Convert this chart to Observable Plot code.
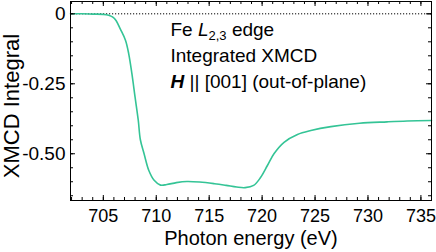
<!DOCTYPE html>
<html>
<head>
<meta charset="utf-8">
<script src="https://cdn.jsdelivr.net/npm/d3@7"></script>
<script src="https://cdn.jsdelivr.net/npm/@observablehq/plot@0.6"></script>
<style>
  html, body { margin: 0; padding: 0; background: white; }
</style>
</head>
<body>
<div id="chart"></div>
<script>
// Photon energy (eV) and integrated XMCD values
const energy = [701.9, 703, 704, 705, 705.5, 705.9, 706.2, 706.6, 707.1, 707.4, 707.7, 708.0, 708.3, 708.5, 708.85, 709.3, 709.8, 710.4, 711.0, 711.9, 712.9, 714.1, 715.5, 716.6, 717.6, 718.4, 719.2, 719.85, 720.5, 721.12, 722.07, 723.34, 724.6, 726.5, 729.2, 731.8, 733.7, 736.0];
const integral = [0, 0, -0.001, -0.002, -0.005, -0.012, -0.024, -0.054, -0.095, -0.143, -0.214, -0.298, -0.38, -0.45, -0.5, -0.56, -0.595, -0.612, -0.61, -0.603, -0.599, -0.601, -0.607, -0.613, -0.619, -0.621, -0.613, -0.585, -0.542, -0.5, -0.459, -0.431, -0.417, -0.403, -0.391, -0.386, -0.383, -0.381];

const xMajor = [705, 710, 715, 720, 725, 730, 735];
const xMinor = d3.range(702, 737, 1);
const yMajor = [0, -0.25, -0.5];
const yMinor = d3.range(0, -14, -1).map(i => i * 0.05);

const xDomain = [701.9, 736.0];
const yDomain = [-0.667, 0.044];

const xLabel = "Photon energy (eV)";
const yLabel = "XMCD Integral";
const annotations = ["Fe L2,3 edge", "Integrated XMCD", "H || [001] (out-of-plane)"];

const data = energy.map((e, i) => ({e, v: integral[i]}));

const W = 436, H = 252, mL = 70, mR = 5, mT = 1, mB = 52;
const fH = H - mT - mB, fW = W - mL - mR;
const major = 5, minor = 3;

const fmt = d => d === 0 ? "0" : d.toFixed(2);

const plot = Plot.plot({
  width: W, height: H,
  marginLeft: mL, marginRight: mR, marginTop: mT, marginBottom: mB,
  style: {fontSize: "19px", fontFamily: "'Liberation Sans', Arial, Helvetica, sans-serif", color: "black", background: "white"},
  x: {domain: xDomain},
  y: {domain: yDomain},
  marks: [
    Plot.ruleY([0], {stroke: "black", strokeWidth: 1, strokeDasharray: "1.2,1.8"}),
    Plot.line(data, {x: "e", y: "v", stroke: "#34c496", strokeWidth: 1.6, curve: "catmull-rom"}),
    // inward ticks: bottom
    Plot.tickX(xMajor, {x: d => d, insetTop: fH - major, stroke: "black"}),
    Plot.tickX(xMinor, {x: d => d, insetTop: fH - minor, stroke: "black"}),
    // top
    Plot.tickX(xMajor, {x: d => d, insetBottom: fH - major, stroke: "black"}),
    Plot.tickX(xMinor, {x: d => d, insetBottom: fH - minor, stroke: "black"}),
    // left
    Plot.tickY(yMajor, {y: d => d, insetRight: fW - major, stroke: "black"}),
    Plot.tickY(yMinor, {y: d => d, insetRight: fW - minor, stroke: "black"}),
    // right
    Plot.tickY(yMajor, {y: d => d, insetLeft: fW - major, stroke: "black"}),
    Plot.tickY(yMinor, {y: d => d, insetLeft: fW - minor, stroke: "black"}),
    Plot.frame({stroke: "black", strokeWidth: 1}),
    Plot.axisX({ticks: xMajor, tickSize: 0, tickPadding: 9, fontSize: 18, label: null}),
    Plot.axisY({ticks: yMajor, tickSize: 0, tickPadding: 5, tickFormat: fmt, label: null}),
    Plot.text([xLabel], {text: d => d, frameAnchor: "bottom", dy: 44, lineAnchor: "bottom", textAnchor: "middle", fontSize: 20, fill: "black"}),
    Plot.text([yLabel], {text: d => d, frameAnchor: "left", dx: -67, dy: 5, rotate: -90, lineAnchor: "top", textAnchor: "middle", fontSize: 22, fill: "black"}),
    Plot.text([annotations[0]], {text: d => d, frameAnchor: "top-left", dx: 100, dy: 34.5, textAnchor: "start", lineAnchor: "bottom", fill: "black"}),
    Plot.text([annotations[1]], {text: d => d, frameAnchor: "top-left", dx: 100, dy: 60.5, textAnchor: "start", lineAnchor: "bottom", fill: "black"}),
    Plot.text([annotations[2]], {text: d => d, frameAnchor: "top-left", dx: 100, dy: 86.5, textAnchor: "start", lineAnchor: "bottom", fill: "black"})
  ]
});

// Rich-text formatting of the annotations (italic L, subscript, bold italic H)
d3.select(plot).selectAll("text").each(function() {
  const t = d3.select(this);
  const s = this.textContent;
  if (s === annotations[0]) {
    t.text(null);
    t.append("tspan").text("Fe ");
    t.append("tspan").attr("font-style", "italic").text("L");
    t.append("tspan").attr("font-size", "13px").attr("dy", "4").text("2,3");
    t.append("tspan").attr("dy", "-4").text(" edge");
  } else if (s === annotations[2]) {
    t.text(null);
    t.append("tspan").attr("font-style", "italic").attr("font-weight", "bold").text("H");
    t.append("tspan").text(" || [001] (out-of-plane)");
  }
});

document.getElementById("chart").appendChild(plot);
</script>
</body>
</html>
